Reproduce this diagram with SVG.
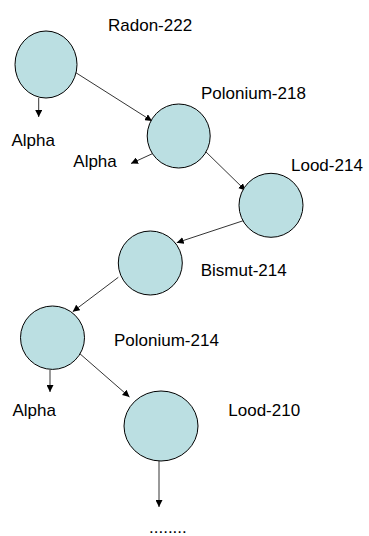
<svg xmlns="http://www.w3.org/2000/svg" width="369" height="536" viewBox="0 0 369 536">
<style>
.n{fill:#BBDFE2;stroke:#000;stroke-width:1}
.t{font-family:"Liberation Sans",Arial,sans-serif;font-size:17px;fill:#000}
.c{stroke:#000;stroke-width:0.8;fill:none;marker-end:url(#ah)}
</style>
<defs>
<marker id="ah" viewBox="0 0 10 10" refX="10" refY="5" markerWidth="7" markerHeight="7" markerUnits="userSpaceOnUse" orient="auto">
<path d="M0,0 L10,5 L0,10 z" fill="#000"/>
</marker>
</defs>
<rect width="369" height="536" fill="#fff"/>
<g id="connectors">
<line class="c" x1="38.7" y1="98" x2="38.7" y2="117"/>
<line class="c" x1="72.7" y1="70.7" x2="152" y2="121"/>
<line class="c" x1="156.7" y1="151.7" x2="131" y2="163.5"/>
<line class="c" x1="204" y1="150" x2="245.5" y2="190.5"/>
<line class="c" x1="243.3" y1="220.7" x2="176.7" y2="242.7"/>
<line class="c" x1="118.3" y1="277.3" x2="72.7" y2="311.7"/>
<line class="c" x1="50" y1="370" x2="50" y2="392"/>
<line class="c" x1="78.7" y1="352.7" x2="129.5" y2="397"/>
<line class="c" x1="159" y1="461" x2="159" y2="507"/>
</g>
<g id="radon222">
<ellipse class="n" cx="46" cy="64.5" rx="31" ry="33.5"/>
<text class="t" x="108" y="30.5">Radon-222</text>
</g>
<g id="alpha1"><text class="t" x="11.5" y="145.5">Alpha</text></g>
<g id="polonium218">
<ellipse class="n" cx="178.7" cy="136" rx="31.5" ry="32"/>
<text class="t" x="201" y="99">Polonium-218</text>
</g>
<g id="alpha2"><text class="t" x="73.3" y="166.5">Alpha</text></g>
<g id="lood214">
<ellipse class="n" cx="271" cy="205.3" rx="32" ry="32"/>
<text class="t" x="291" y="170.5">Lood-214</text>
</g>
<g id="bismut214">
<ellipse class="n" cx="150.3" cy="263" rx="32" ry="32"/>
<text class="t" x="200.7" y="275.5">Bismut-214</text>
</g>
<g id="polonium214">
<ellipse class="n" cx="52.5" cy="337.7" rx="32" ry="31.7"/>
<text class="t" x="114" y="346">Polonium-214</text>
</g>
<g id="alpha3"><text class="t" x="12.5" y="415.5">Alpha</text></g>
<g id="lood210">
<ellipse class="n" cx="161" cy="426" rx="37" ry="35"/>
<text class="t" x="228.3" y="415.5">Lood-210</text>
</g>
<g id="dots"><text class="t" x="149" y="533">........</text></g>
</svg>
